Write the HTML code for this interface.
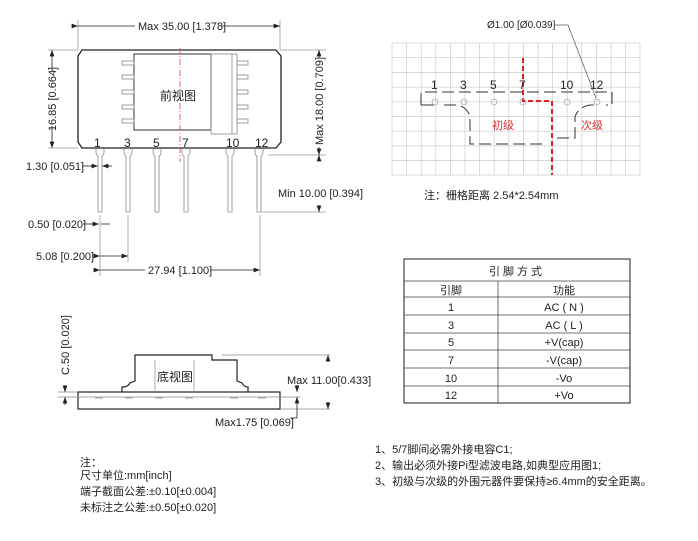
<!DOCTYPE html>
<html><head><meta charset="utf-8"><style>
body{margin:0;background:#fff}
svg text{font-family:"Liberation Sans","Noto Sans CJK SC",sans-serif;fill:#222}
</style></head><body>
<svg width="698" height="536" viewBox="0 0 698 536" xmlns="http://www.w3.org/2000/svg">
<defs><marker id="a" markerWidth="8" markerHeight="6" refX="8" refY="3" orient="auto"><path d="M0,0L8,3L0,6z" fill="#222"/></marker></defs>
<g stroke="#999" stroke-width="0.8" fill="none">
<line x1="78" y1="20" x2="78" y2="50"/><line x1="280" y1="20" x2="280" y2="50"/>
<line x1="48" y1="50" x2="78" y2="50"/><line x1="48" y1="148" x2="78" y2="148"/>
<line x1="280" y1="50" x2="326" y2="50"/><line x1="268" y1="155" x2="326" y2="155"/><line x1="262" y1="212" x2="326" y2="212"/>
<line x1="100" y1="215" x2="100" y2="276"/><line x1="128" y1="215" x2="128" y2="262"/><line x1="260" y1="215" x2="260" y2="276"/>
</g>
<g stroke="#222" stroke-width="0.8" fill="none">
<line x1="78" y1="26" x2="135" y2="26" marker-start="url(#a)"/><line x1="222" y1="26" x2="280" y2="26" marker-end="url(#a)"/>
<line x1="52" y1="72" x2="52" y2="50" marker-end="url(#a)"/><line x1="52" y1="126" x2="52" y2="148" marker-end="url(#a)"/>
<line x1="319" y1="58" x2="319" y2="50" marker-end="url(#a)"/><line x1="319" y1="147" x2="319" y2="155" marker-end="url(#a)"/>
<line x1="319" y1="160" x2="319" y2="155" marker-end="url(#a)"/><line x1="319" y1="205" x2="319" y2="212" marker-end="url(#a)"/>
<line x1="82" y1="166" x2="98" y2="166" marker-end="url(#a)"/><line x1="112" y1="166" x2="102" y2="166" marker-end="url(#a)"/>
<line x1="83" y1="224" x2="99" y2="224" marker-end="url(#a)"/><line x1="110" y1="224" x2="101" y2="224"/>
<line x1="100" y1="256" x2="128" y2="256" marker-start="url(#a)" marker-end="url(#a)"/>
<line x1="100" y1="270" x2="145" y2="270" marker-start="url(#a)"/><line x1="210" y1="270" x2="260" y2="270" marker-end="url(#a)"/>
</g>
<text x="138" y="30" font-size="11">Max 35.00 [1.378]</text>
<text transform="translate(56,99) rotate(-90)" font-size="11" text-anchor="middle">16.85 [0.664]</text>
<text transform="translate(323,101) rotate(-90)" font-size="11" text-anchor="middle">Max 18.00 [0.709]</text>
<text x="278" y="197" font-size="11">Min 10.00 [0.394]</text>
<text x="26" y="170" font-size="11">1.30 [0.051]</text>
<text x="28" y="228" font-size="11">0.50 [0.020]</text>
<text x="36" y="260" font-size="11">5.08 [0.200]</text>
<text x="148" y="274" font-size="11">27.94 [1.100]</text>
<!-- body -->
<path d="M82,50H276L281,56V142L276,148H82L78,142V56Z" fill="none" stroke="#222" stroke-width="1.3"/>
<rect x="134" y="54" width="77" height="76" fill="none" stroke="#333" stroke-width="1"/>
<rect x="211" y="54" width="26" height="80" fill="none" stroke="#888" stroke-width="0.8"/>
<line x1="232" y1="54" x2="232" y2="134" stroke="#888" stroke-width="0.8"/>
<g fill="none" stroke="#888" stroke-width="0.8">
<rect x="122" y="61" width="12" height="4"/><rect x="122" y="75" width="12" height="4"/><rect x="122" y="90" width="12" height="4"/><rect x="122" y="105" width="12" height="4"/><rect x="122" y="119" width="12" height="4"/>
<rect x="237" y="61" width="11" height="4"/><rect x="237" y="75" width="11" height="4"/><rect x="237" y="90" width="11" height="4"/><rect x="237" y="105" width="11" height="4"/><rect x="237" y="119" width="11" height="4"/>
</g>
<line x1="180" y1="48" x2="180" y2="162" stroke="#e04040" stroke-width="0.8" stroke-dasharray="6,2,1,2"/>
<text x="160" y="100" font-size="12">前视图</text>
<g font-size="12"><text x="94" y="147">1</text><text x="124" y="147">3</text><text x="153" y="147">5</text><text x="182" y="147">7</text><text x="226" y="147">10</text><text x="255" y="147">12</text></g>
<g fill="none" stroke="#888" stroke-width="0.8">
<g id="p"><path d="M96,149v3q0,3 2,4v56h4v-56q2,-1 2,-4v-3"/></g>
<use href="#p" x="28"/><use href="#p" x="57"/><use href="#p" x="86"/><use href="#p" x="130"/><use href="#p" x="159"/>
</g>
<!-- grid -->
<g stroke="#ccc" stroke-width="0.7">
<path d="M392,43V175M406.6,43V175M421.2,43V175M435.8,43V175M450.4,43V175M465,43V175M479.6,43V175M494.2,43V175M508.8,43V175M523.4,43V175M538,43V175M552.6,43V175M567.2,43V175M581.8,43V175M596.4,43V175M611,43V175M625.6,43V175M640,43V175"/>
<path d="M392,43H640M392,57.7H640M392,72.4H640M392,87.1H640M392,101.8H640M392,116.5H640M392,131.2H640M392,145.9H640M392,160.6H640M392,175H640"/>
</g>
<g fill="none" stroke="#333" stroke-width="1" stroke-dasharray="12,5">
<path d="M421,105V92H612V105H606"/>
<path d="M444,105H458Q468,108 470,117V144H547"/>
<path d="M557,138H575V117Q578,107 590,105H598"/>
</g>
<line x1="421" y1="105" x2="434" y2="105" stroke="#333"/>
<path d="M523,58V101H552V175" fill="none" stroke="#e02020" stroke-width="2" stroke-dasharray="5,3"/>
<g fill="none" stroke="#aaa" stroke-width="0.8"><circle cx="435" cy="102" r="3"/><circle cx="464" cy="102" r="3"/><circle cx="494" cy="102" r="3"/><circle cx="523" cy="102" r="3"/><circle cx="567" cy="102" r="3"/><circle cx="597" cy="102" r="3"/></g>
<g font-size="12"><text x="431" y="89">1</text><text x="460" y="89">3</text><text x="490" y="89">5</text><text x="519" y="89">7</text><text x="560" y="89">10</text><text x="590" y="89">12</text></g>
<text x="492" y="129" font-size="11" style="fill:#e03030">初级</text>
<text x="581" y="129" font-size="11" style="fill:#e03030">次级</text>
<text x="487" y="28" font-size="10">Ø1.00 [Ø0.039]</text>
<path d="M555,25H568L596,98" fill="none" stroke="#555" stroke-width="0.7"/>
<text x="424" y="199" font-size="11">注：栅格距离 2.54*2.54mm</text>
<!-- table -->
<g fill="none" stroke="#444" stroke-width="0.8">
<rect x="404" y="259" width="226" height="144" stroke-width="1.2"/>
<path d="M404,281H630M404,297H630M404,315H630M404,333H630M404,350H630M404,368H630M404,386H630M498,281V403"/>
</g>
<g font-size="11" text-anchor="middle">
<text x="517" y="275" letter-spacing="3">引脚方式</text>
<text x="451" y="294">引脚</text><text x="564" y="294">功能</text>
<text x="451" y="311">1</text><text x="564" y="311">AC ( N )</text>
<text x="451" y="329">3</text><text x="564" y="329">AC ( L )</text>
<text x="451" y="346">5</text><text x="564" y="346">+V(cap)</text>
<text x="451" y="364">7</text><text x="564" y="364">-V(cap)</text>
<text x="451" y="382">10</text><text x="564" y="382">-Vo</text>
<text x="451" y="399">12</text><text x="564" y="399">+Vo</text>
</g>
<!-- bottom view -->
<g fill="none" stroke="#222" stroke-width="1.2">
<rect x="78" y="392" width="202" height="17"/>
<path d="M122,392V387Q128,387 130,383L135,381V355H212V360H237V381L242,383Q244,387 248,387V392"/>
</g>
<g stroke="#888" stroke-width="0.7" fill="none">
<line x1="155" y1="360" x2="155" y2="392"/><line x1="194" y1="360" x2="194" y2="392"/>
<line x1="58" y1="397" x2="300" y2="397"/><line x1="58" y1="392" x2="78" y2="392"/>
<line x1="222" y1="355" x2="330" y2="355"/><line x1="280" y1="409" x2="330" y2="409"/>
<path d="M95,398h8M125,398h8M155,398h8M185,398h8M230,398h8M258,398h8"/>
</g>
<g stroke="#222" stroke-width="0.8" fill="none">
<line x1="328" y1="362" x2="328" y2="355" marker-end="url(#a)"/><line x1="328" y1="402" x2="328" y2="409" marker-end="url(#a)"/>
<line x1="297" y1="385" x2="297" y2="392" marker-end="url(#a)"/><line x1="297" y1="404" x2="297" y2="397" marker-end="url(#a)"/><line x1="297" y1="404" x2="297" y2="418"/><line x1="290" y1="418" x2="297" y2="418"/>
<line x1="65" y1="385" x2="65" y2="392" marker-end="url(#a)"/><line x1="65" y1="405" x2="65" y2="397" marker-end="url(#a)"/>
</g>
<text transform="translate(69,345) rotate(-90)" font-size="11" text-anchor="middle">C.50 [0.020]</text>
<text x="157" y="381" font-size="12">底视图</text>
<text x="287" y="384" font-size="11">Max 11.00[0.433]</text>
<text x="215" y="426" font-size="11">Max1.75 [0.069]</text>
<!-- notes -->
<g font-size="11">
<text x="80" y="466">注：</text>
<text x="80" y="479">尺寸单位:mm[inch]</text>
<text x="80" y="495">端子截面公差:±0.10[±0.004]</text>
<text x="80" y="511">未标注之公差:±0.50[±0.020]</text>
<text x="375" y="453">1、5/7脚间必需外接电容C1;</text>
<text x="375" y="469">2、输出必须外接Pi型滤波电路,如典型应用图1;</text>
<text x="375" y="485">3、初级与次级的外围元器件要保持≥6.4mm的安全距离。</text>
</g>
</svg>
</body></html>
